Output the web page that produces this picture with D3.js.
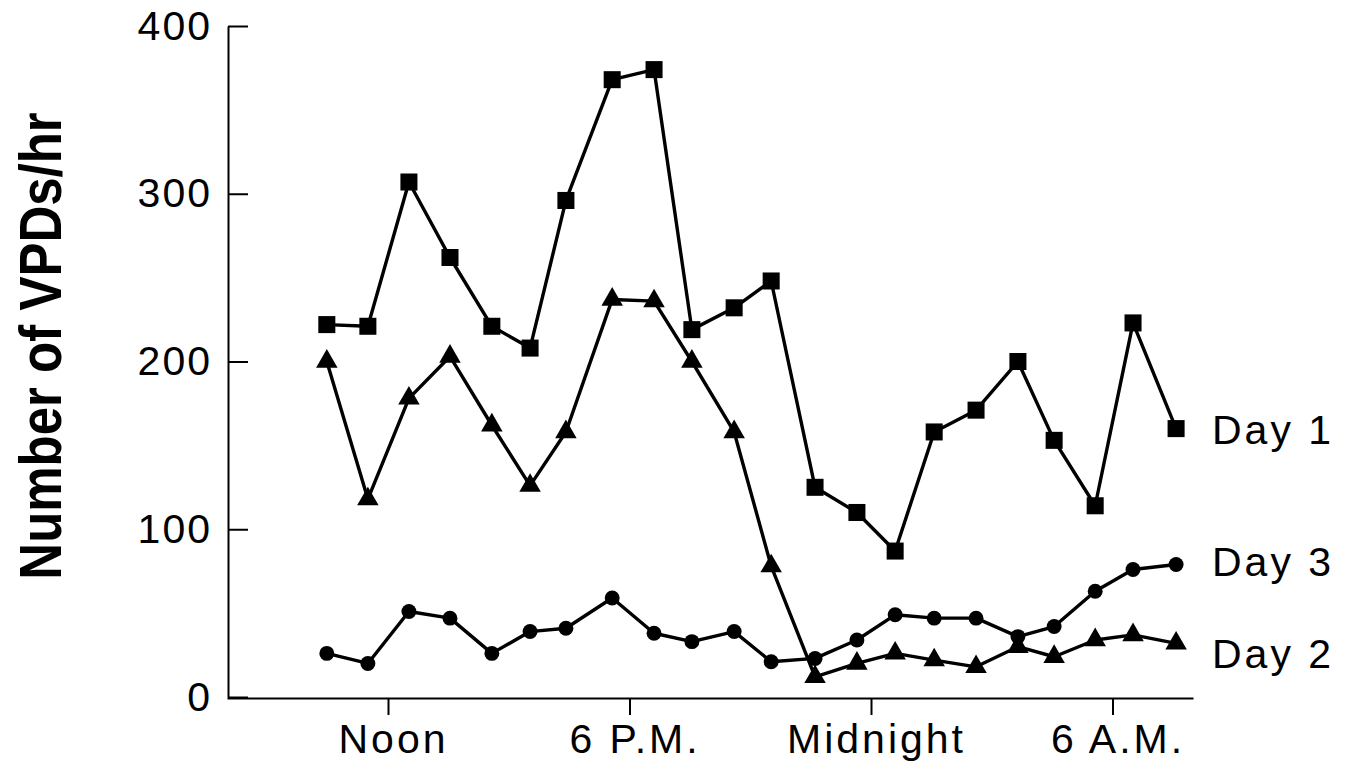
<!DOCTYPE html>
<html>
<head>
<meta charset="utf-8">
<script src="https://cdn.jsdelivr.net/npm/d3@7"></script>
<style>
  body { margin: 0; background: #fff; }
  svg { display: block; }
  text { font-family: "Liberation Sans", Arial, sans-serif; fill: #000; }
</style>
</head>
<body>
<svg width="1349" height="761"></svg>
<script>
// hours since midnight of the first day (12 = noon, 24 = midnight)
var hours = [10.48, 11.50, 12.52, 13.54, 14.58, 15.53, 16.42, 17.57, 18.61, 19.55, 20.60,
             21.52, 22.61, 23.65, 24.60, 25.57, 26.61, 27.65, 28.55, 29.57, 30.51, 31.58];

var day1 = [222, 221, 307, 262, 221, 208, 296, 368, 374, 219, 232,
            248, 125, 110, 87, 158, 171, 200, 153, 114, 223, 160];
var day2 = [200, 118, 178, 203, 162, 126, 158, 237, 236, 200, 158,
            78, 12, 20, 26, 22, 18, 30, 24, 34, 37, 32];
var day3 = [26, 20, 51, 47, 26, 39, 41, 59, 38, 33, 39,
            21, 23, 34, 49, 47, 47, 36, 42, 63, 76, 79];

var xTicks = [12, 18, 24, 30];
var xTickLabels = ["Noon", "6 P.M.", "Midnight", "6 A.M."];
var yTicks = [0, 100, 200, 300, 400];

var series = [
  {name: "Day 1", values: day1, symbol: d3.symbolSquare, size: 290, nudge: 0},
  {name: "Day 2", values: day2, symbol: d3.symbolTriangle, size: 200, nudge: 10},
  {name: "Day 3", values: day3, symbol: d3.symbolCircle, size: 175, nudge: -3}
];

var svg = d3.select("svg");

var x = d3.scaleLinear().domain([8, 32]).range([227, 1193]);
var y = d3.scaleLinear().domain([0, 400]).range([697, 26]);

// y axis, ticks pointing into the plot
var yAxis = svg.append("g")
    .attr("transform", "translate(228,0)")
    .call(d3.axisLeft(y).tickValues(yTicks).tickSize(-20).tickSizeOuter(0).tickPadding(16));
yAxis.select(".domain").attr("stroke-width", 2);
yAxis.selectAll(".tick line").attr("stroke-width", 2);
yAxis.selectAll("text")
    .style("font-family", "'Liberation Sans', Arial, sans-serif")
    .style("font-size", "41px")
    .style("letter-spacing", "2px");

// x axis
var xAxis = svg.append("g")
    .attr("transform", "translate(0,698)")
    .call(d3.axisBottom(x).tickValues(xTicks).tickSize(17).tickSizeOuter(0).tickPadding(9)
      .tickFormat(function(d, i) { return xTickLabels[i]; }));
xAxis.select(".domain").attr("stroke-width", 2);
xAxis.selectAll(".tick line").attr("stroke-width", 2);
xAxis.selectAll("text")
    .style("font-family", "'Liberation Sans', Arial, sans-serif")
    .style("font-size", "41px")
    .style("letter-spacing", "3px")
    .attr("dx", 5);

// y title (a bit stretched like the scanned original)
svg.append("text")
    .attr("transform", "translate(61,346) rotate(-90) scale(1,1.15)")
    .attr("text-anchor", "middle")
    .style("font-size", "51px")
    .style("font-weight", "bold")
    .text("Number of VPDs/hr");

var line = d3.line()
    .x(function(d) { return x(d[0]); })
    .y(function(d) { return y(d[1]); });

series.forEach(function(s) {
  var pts = hours.map(function(h, i) { return [h, s.values[i]]; });

  svg.append("path")
      .datum(pts)
      .attr("fill", "none")
      .attr("stroke", "#000")
      .attr("stroke-width", 3.4)
      .attr("stroke-linejoin", "round")
      .attr("d", line);

  svg.append("g").selectAll("path")
      .data(pts)
      .enter().append("path")
      .attr("transform", function(d) { return "translate(" + x(d[0]) + "," + y(d[1]) + ")"; })
      .attr("d", d3.symbol().type(s.symbol).size(s.size))
      .attr("fill", "#000");

  var last = pts[pts.length - 1];
  svg.append("text")
      .attr("x", 1212)
      .attr("y", y(last[1]) + 15 + s.nudge)
      .style("font-size", "41px")
      .style("letter-spacing", "3px")
      .text(s.name);
});
</script>
</body>
</html>
